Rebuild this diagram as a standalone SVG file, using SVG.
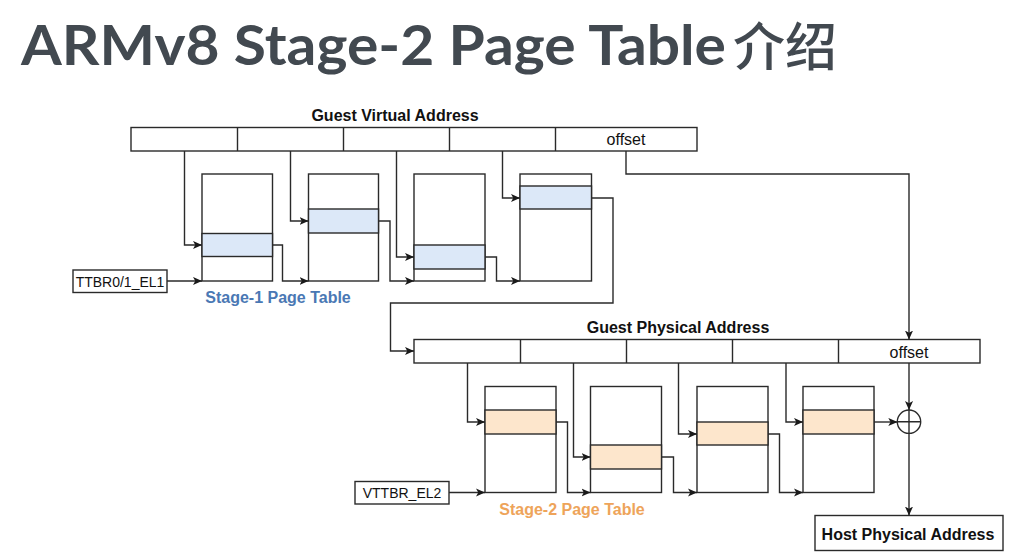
<svg xmlns="http://www.w3.org/2000/svg" width="1009" height="560" viewBox="0 0 1009 560">
<defs>
<marker id="arr" viewBox="0 0 10 10" refX="10" refY="5" markerWidth="9" markerHeight="9" markerUnits="userSpaceOnUse" orient="auto">
<path d="M0,0.5 L10,5 L0,9.5 L2.5,5 z" fill="#1a1a1a"/>
</marker>
<style>
.box{fill:#fff;stroke:#2a2a2a;stroke-width:1.4}
.hb{fill:#dce8f8;stroke:#2a2a2a;stroke-width:1.4}
.ho{fill:#fde6cc;stroke:#2a2a2a;stroke-width:1.4}
.ln{fill:none;stroke:#2a2a2a;stroke-width:1.4}
.con path{fill:none;stroke:#2a2a2a;stroke-width:1.4}
.ar{marker-end:url(#arr)}
.lb{font-family:"Liberation Sans",Arial,sans-serif;font-size:16px;font-weight:bold;fill:#111;text-anchor:middle}
.rg{font-family:"Liberation Sans",Arial,sans-serif;font-size:16px;fill:#111;text-anchor:middle}
.sm{font-family:"Liberation Sans",Arial,sans-serif;font-size:14px;fill:#111;text-anchor:middle}
</style>
</defs>
<rect width="1009" height="560" fill="#fff"/>
<g id="title" fill="#424950">
<text x="21" y="65" font-family="Lato,'Open Sans',sans-serif" font-weight="bold" font-size="56" textLength="705" lengthAdjust="spacingAndGlyphs">ARMv8 Stage-2 Page Table</text>
<text x="733" y="66" font-family="'Noto Sans CJK SC',sans-serif" font-weight="500" font-size="52">介绍</text>
</g>

<g id="gva">
<text class="lb" x="395" y="121">Guest Virtual Address</text>
<rect class="box" x="131" y="127.5" width="566" height="23.5"/>
<path class="ln" d="M237.5,127.5V151M343.5,127.5V151M449.5,127.5V151M555.5,127.5V151"/>
<text class="rg" x="626" y="145">offset</text>
</g>

<g id="s1t1"><rect class="box" x="202" y="174" width="70.5" height="107"/><rect class="hb" x="202" y="233.5" width="70.5" height="23"/></g>
<g id="s1t2"><rect class="box" x="308.5" y="174" width="70" height="107"/><rect class="hb" x="308.5" y="209" width="70" height="24"/></g>
<g id="s1t3"><rect class="box" x="414" y="174" width="71" height="107"/><rect class="hb" x="414" y="245" width="71" height="24"/></g>
<g id="s1t4"><rect class="box" x="520" y="174" width="71.5" height="107"/><rect class="hb" x="520" y="186" width="71.5" height="23"/></g>
<g id="ttbr"><rect class="box" x="73" y="270" width="94" height="22.5"/><text class="sm" x="120" y="287">TTBR0/1_EL1</text></g>
<g id="s1label"><text class="lb" x="278" y="303" style="fill:#4a78b4">Stage-1 Page Table</text></g>

<g id="gpa">
<text class="lb" x="678" y="333">Guest Physical Address</text>
<rect class="box" x="414" y="339.5" width="566" height="23.5"/>
<path class="ln" d="M520.5,339.5V363M626.5,339.5V363M732.5,339.5V363M838.5,339.5V363"/>
<text class="rg" x="909" y="358">offset</text>
</g>

<g id="s2t1"><rect class="box" x="485" y="386.5" width="71" height="106"/><rect class="ho" x="485" y="410" width="71" height="24"/></g>
<g id="s2t2"><rect class="box" x="590.5" y="386.5" width="71" height="106"/><rect class="ho" x="590.5" y="445" width="71" height="24"/></g>
<g id="s2t3"><rect class="box" x="697" y="386.5" width="71" height="106"/><rect class="ho" x="697" y="422" width="71" height="23"/></g>
<g id="s2t4"><rect class="box" x="803" y="386.5" width="71" height="106"/><rect class="ho" x="803" y="410" width="71" height="24"/></g>
<g id="vttbr"><rect class="box" x="355" y="481.5" width="94" height="22.5"/><text class="sm" x="402" y="498">VTTBR_EL2</text></g>
<g id="s2label"><text class="lb" x="572" y="515" style="fill:#eea45a">Stage-2 Page Table</text></g>

<g id="adder"><circle class="box" cx="909" cy="421.7" r="11.7"/><path class="ln" d="M897.3,421.7H920.7M909,410V433.4"/></g>
<g id="hpa"><rect class="box" x="815" y="515.5" width="188" height="35"/><text class="lb" x="908" y="540">Host Physical Address</text></g>

<g id="connectors" class="con">
<path class="ar" d="M184.5,151V245H202"/>
<path class="ar" d="M290.5,151V221H308.5"/>
<path class="ar" d="M396.5,151V257H414"/>
<path class="ar" d="M502.5,151V198H520"/>
<path class="ar" d="M167,281H202"/>
<path class="ar" d="M272.5,245H282.5V281H308.5"/>
<path class="ar" d="M378.5,221H390V281H414"/>
<path class="ar" d="M485,257H496.5V281H520"/>
<path class="ar" d="M591.5,198H613V303H390.5V351H414"/>
<path class="ar" d="M626,151V174H909V339.5"/>
<path class="ar" d="M467.5,363V422H485"/>
<path class="ar" d="M573.5,363V457H590.5"/>
<path class="ar" d="M678.5,363V434H697"/>
<path class="ar" d="M786,363V422H803"/>
<path class="ar" d="M449,492.5H485"/>
<path class="ar" d="M556,422H567.5V492.5H590.5"/>
<path class="ar" d="M661.5,457H673.5V492.5H697"/>
<path class="ar" d="M768,434H779.5V492.5H803"/>
<path class="ar" d="M874,422H897.3"/>
<path class="ar" d="M909,363V410"/>
<path class="ar" d="M909,433.4V515.5"/>
</g>
</svg>
